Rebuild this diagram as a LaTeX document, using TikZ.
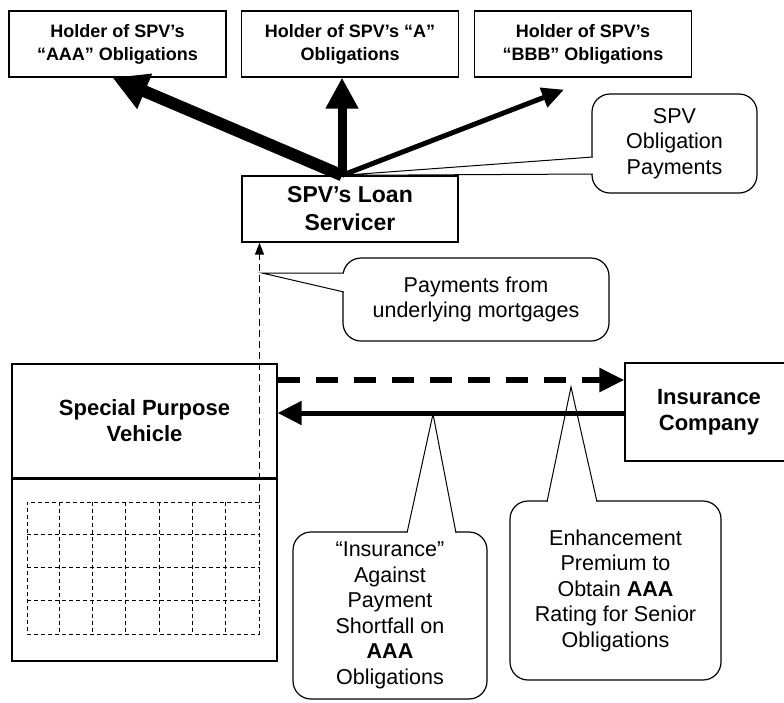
\documentclass[tikz,border=0pt]{standalone}
\usepackage{fontspec}
\setmainfont{Liberation Sans}
\usepackage{tikz}
\usetikzlibrary{arrows.meta}
\usetikzlibrary{positioning}
\usetikzlibrary{calc}

\tikzset{
  holder/.style={draw, line width=1.3pt, minimum width=217pt, minimum height=66pt, align=center, font=\fontsize{18}{23}\selectfont\bfseries},
  party/.style={draw, line width=1.3pt, align=center, font=\fontsize{22}{26}\selectfont\bfseries},
  bubble/.style={draw, line width=1.2pt, rounded corners=18pt, fill=white, align=center, font=\fontsize{21.5}{25.5}\selectfont},
  tail/.style={line width=1pt},
  heavyflow/.style={line width=12pt, -{Triangle[length=35pt,width=36pt]}},
  midflow/.style={line width=9pt, -{Triangle[length=31pt,width=31pt]}},
  lightflow/.style={line width=5pt, -{Triangle[length=22pt,width=20pt]}},
  premium/.style={line width=5.5pt, dash pattern=on 22pt off 16pt, -{Triangle[length=25pt,width=23pt]}},
  cover/.style={line width=5pt, -{Triangle[length=24pt,width=23pt]}},
  feed/.style={line width=1.2pt, dash pattern=on 7pt off 4pt, -{Triangle[length=12pt,width=9pt]}},
  gridline/.style={line width=1pt, dash pattern=on 4pt off 3pt}
}

\begin{document}
\begin{tikzpicture}[x=1pt, y=-1pt]
\useasboundingbox (0,0) rectangle (784,702);

% Holders
\node[holder] (aaa) at (117.5,44) {Holder of SPV’s\\“AAA" Obligations};
\node[holder] (a) at (350,44) {Holder of SPV’s “A”\\Obligations};
\node[holder] (bbb) at (583,44) {Holder of SPV’s\\“BBB” Obligations};

% Servicer, SPV, insurer
\node[party, minimum width=216pt, minimum height=66pt, font=\fontsize{23}{28}\selectfont\bfseries] (loan) at (350,209) {SPV’s Loan\\Servicer};
\coordinate (src) at ([xshift=-8pt]loan.north);

\node[party, minimum width=265pt, minimum height=114pt] (spv) at (144.5,421) {Special Purpose\\Vehicle};
\node[draw, line width=1.3pt, minimum width=265pt, minimum height=183pt] (pool) at (144.5,569.5) {};
\draw[line width=2.8pt] (spv.south west) -- (spv.south east);

\node[party, minimum width=168pt, minimum height=98pt] (insco) at (709,412) {Insurance\\Company};

% Mortgage pool
\node[draw, gridline, minimum width=232pt, minimum height=132pt, inner sep=0pt] (grid) at (143,568) {};
\foreach \i in {1,...,6}
  \draw[gridline] ($(grid.north west)+(\i*33.14,0)$) -- ($(grid.south west)+(\i*33.14,0)$);
\foreach \j in {1,2,3}
  \draw[gridline] ($(grid.north west)+(0,\j*33)$) -- ($(grid.north east)+(0,\j*33)$);

% Callouts
\node[bubble, minimum width=165pt, minimum height=99pt] (oblnote) at (674.5,143.5) {SPV\\Obligation\\Payments};
\node[bubble, minimum width=266pt, minimum height=83pt] (paynote) at (476,299.5) {Payments from\\underlying mortgages};
\node[bubble, minimum width=194pt, minimum height=167pt] (insnote) at (390,615.5) {“Insurance”\\Against\\Payment\\Shortfall on\\\textbf{AAA}\\Obligations};
\node[bubble, minimum width=211pt, minimum height=179pt] (enhnote) at (615.5,590.5) {Enhancement\\Premium to\\Obtain \textbf{AAA}\\Rating for Senior\\Obligations};

\coordinate (paytip) at (262,273);
\coordinate (instip) at (433,414);
\coordinate (enhtip) at (571,387);

\coordinate (obl1) at ([xshift=1.5pt,yshift=-13.5pt]oblnote.west);
\coordinate (obl2) at ([xshift=1.5pt,yshift=-30.5pt]oblnote.west);
\coordinate (pay1) at ([xshift=1.5pt,yshift=26.5pt]paynote.west);
\coordinate (pay2) at ([xshift=1.5pt,yshift=7.5pt]paynote.west);
\coordinate (ins1) at ([xshift=17pt,yshift=-1.5pt]insnote.north);
\coordinate (ins2) at ([xshift=66pt,yshift=-1.5pt]insnote.north);
\coordinate (enh1) at ([xshift=-68.5pt,yshift=-1.5pt]enhnote.north);
\coordinate (enh2) at ([xshift=-18.5pt,yshift=-1.5pt]enhnote.north);

\fill[white] (src) -- (obl1) -- (obl2) -- cycle;
\draw[tail] (obl1) -- (src) -- (obl2);
\fill[white] (paytip) -- (pay1) -- (pay2) -- cycle;
\draw[tail] (pay1) -- (paytip) -- (pay2);
\fill[white] (instip) -- (ins1) -- (ins2) -- cycle;
\draw[tail] (ins1) -- (instip) -- (ins2);
\fill[white] (enhtip) -- (enh1) -- (enh2) -- cycle;
\draw[tail] (enh1) -- (enhtip) -- (enh2);

% Arrows
\draw[heavyflow] (src) -- ([xshift=-5pt]aaa.south);
\draw[midflow] (src) -- ([xshift=-8pt]a.south);
\draw[lightflow] (src) -- ([xshift=-19pt,yshift=-12pt]bbb.south);

\draw[feed] (grid.north east) -- (grid.north east |- loan.south);

\draw[premium] ([yshift=41pt]spv.east) -- ([yshift=41pt]spv.east -| insco.west);
\draw[cover] ([yshift=-1pt]insco.west) -- ([yshift=-1pt]insco.west -| spv.east);

\end{tikzpicture}
\end{document}
